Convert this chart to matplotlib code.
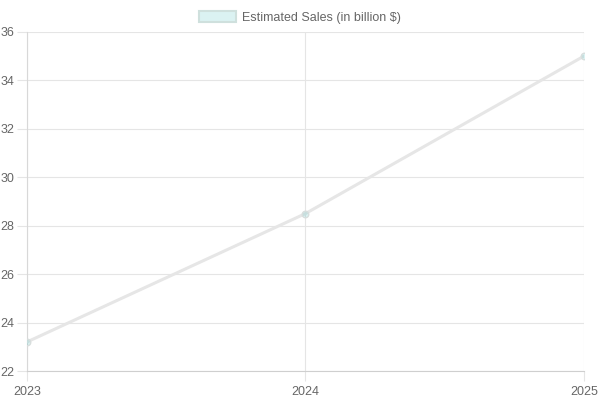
import matplotlib
matplotlib.use("Agg")
import matplotlib.pyplot as plt
from matplotlib.patches import Patch

years = ["2023", "2024", "2025"]
sales = [23.2, 28.5, 35.0]
y_ticks = [22, 24, 26, 28, 30, 32, 34, 36]
label = "Estimated Sales (in billion $)"

plt.rcParams['font.family'] = ['Liberation Sans', 'DejaVu Sans']

fig = plt.figure(figsize=(6, 4), dpi=100)
ax = fig.add_axes([0.045, 0.0725, 0.928, 0.8475])

x = list(range(len(years)))
grid_c = "#e5e5e5"
ax.plot(x, sales, color="#e6e6e6", lw=2.2, solid_capstyle="round", zorder=3)
ax.scatter(x, sales, s=22, facecolor=(75/255, 192/255, 192/255, 0.2),
           edgecolor="#d8dedd", linewidth=1, zorder=4)

ax.set_xlim(0, 2)
ax.set_ylim(22, 36)
ax.set_xticks(x)
ax.set_xticklabels(years)
ax.set_yticks(y_ticks)
ax.grid(True, color=grid_c, lw=0.8)
ax.set_axisbelow(True)
for s in ax.spines.values():
    s.set_visible(False)
ax.spines["bottom"].set_visible(True)
ax.spines["left"].set_visible(True)
ax.spines["bottom"].set_color("#cfcfcf")
ax.spines["left"].set_color("#d8d8d8")
ax.spines["bottom"].set_linewidth(0.8)
ax.spines["left"].set_linewidth(0.8)
ax.tick_params(colors=grid_c, labelcolor="#666666", labelsize=9, length=7, width=0.8)
ax.tick_params(axis="y", pad=2)

handle = Patch(facecolor=(75/255, 192/255, 192/255, 0.2), edgecolor="#cfe0dd", linewidth=1.5)
fig.legend([handle], [label], loc="upper center", bbox_to_anchor=(0.5, 1.0),
           frameon=False, fontsize=9, labelcolor="#666666",
           handlelength=3.0, handleheight=0.9, handletextpad=0.5)

fig.savefig("out.png", dpi=100)
